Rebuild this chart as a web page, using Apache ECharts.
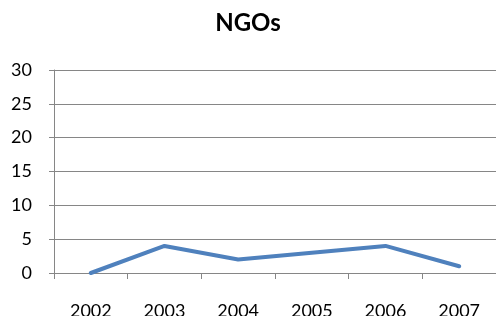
<!DOCTYPE html>
<html>
<head>
<meta charset="utf-8">
<script src="https://cdn.jsdelivr.net/npm/echarts@6/dist/echarts.min.js"></script>
<style>
  html, body { margin: 0; padding: 0; background: #fff; }
  #chart { width: 496px; height: 325px; }
</style>
</head>
<body>
<div id="chart"></div>
<script>
// Number of NGOs per year
const years = ['2002', '2003', '2004', '2005', '2006', '2007'];
const ngoCounts = [0, 4, 2, 3, 4, 1];
const yTicks = { min: 0, max: 30, interval: 5 };

const FONT = 'Lato, "Open Sans", sans-serif';

const chart = echarts.init(document.getElementById('chart'), null, { renderer: 'canvas' });
chart.setOption({
  animation: false,
  backgroundColor: '#ffffff',
  title: {
    text: 'NGOs',
    left: 'center',
    top: 6,
    textStyle: { fontFamily: FONT, fontSize: 24, fontWeight: 'bold', color: '#000' }
  },
  grid: { left: 54, top: 70, width: 456, height: 203, containLabel: false },
  xAxis: {
    type: 'category',
    data: years,
    boundaryGap: true,
    axisLine: { show: true, lineStyle: { color: '#868686', width: 1 } },
    axisTick: { show: true, length: 6, lineStyle: { color: '#868686' } },
    axisLabel: { margin: 29, fontFamily: FONT, fontSize: 18, color: '#000' },
    splitLine: { show: false }
  },
  yAxis: {
    type: 'value',
    min: yTicks.min,
    max: yTicks.max,
    interval: yTicks.interval,
    axisLine: { show: true, lineStyle: { color: '#868686', width: 1 } },
    axisTick: { show: true, length: 5, lineStyle: { color: '#868686' } },
    axisLabel: { margin: 22, fontFamily: FONT, fontSize: 18, color: '#000' },
    splitLine: { show: true, lineStyle: { color: '#868686', width: 1 } }
  },
  series: [{
    type: 'line',
    data: ngoCounts,
    showSymbol: false,
    symbol: 'none',
    lineStyle: { color: '#4F81BD', width: 4, cap: 'round', join: 'round' },
    itemStyle: { color: '#4F81BD' }
  }],
  graphic: [{
    // lower edge of the frame trims the year labels
    type: 'rect',
    left: 0,
    bottom: 0,
    shape: { width: 496, height: 9 },
    style: { fill: '#ffffff' },
    z: 100
  }]
});
</script>
</body>
</html>
